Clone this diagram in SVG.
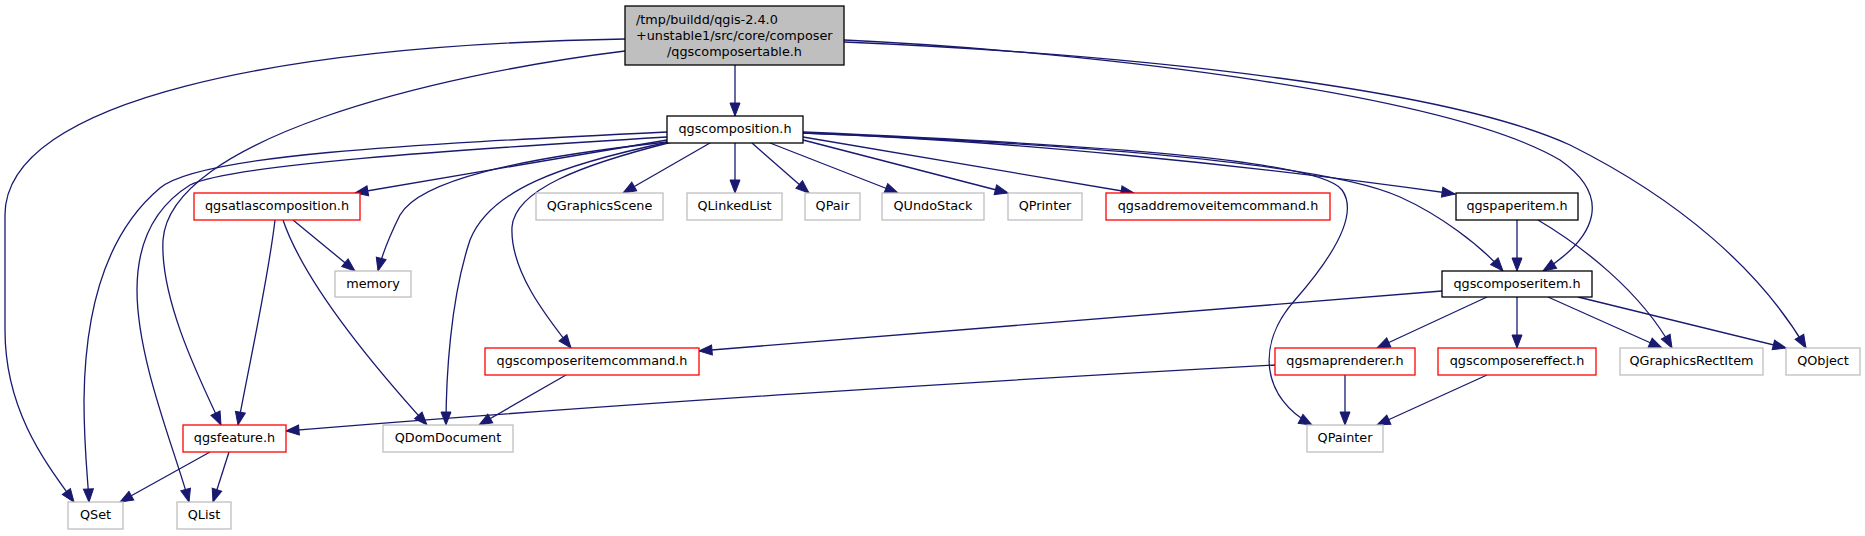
<svg xmlns="http://www.w3.org/2000/svg" width="1865" height="536" viewBox="0 0 1865 536">
<style>
.nd rect{fill:#ffffff;stroke-width:1.3}
.k rect{stroke:#000000}
.r rect{stroke:#ff0000}
.g rect{stroke:#bfbfbf}
#main rect{fill:#bfbfbf;stroke:#000000}
text{font-family:"DejaVu Sans","Liberation Sans",sans-serif;font-size:12.8px;fill:#000000;text-anchor:middle}
#edges path{fill:none;stroke:#191970;stroke-width:1.3;marker-end:url(#a)}
</style>
<defs>
<marker id="a" markerUnits="userSpaceOnUse" markerWidth="14" markerHeight="11" refX="13" refY="5" orient="auto" overflow="visible">
<path d="M0,0 L13,5 L0,10 z" fill="#191970" stroke="#191970" stroke-width="1"/>
</marker>
</defs>
<rect x="0" y="0" width="1865" height="536" fill="#ffffff"/>
<g id="edges">
<path d="M735,65 L735,116"/>
<path d="M625,39 C280,45 5,100 5,215 L5,330 C5,410 45,462 74,502"/>
<path d="M625,51 C430,75 170,140 163,240 C160,300 200,380 221,425"/>
<path d="M844,40 C1100,52 1450,95 1560,160 C1610,195 1600,235 1543,271"/>
<path d="M844,42 C1150,55 1450,90 1570,145 C1680,200 1760,270 1806,348"/>
<path d="M667,132 C400,145 200,155 160,188 C110,230 85,300 84,400 C84,450 88,480 89,502"/>
<path d="M667,137 C450,150 230,165 190,185 C150,210 137,250 137,290 C137,360 175,450 189,502"/>
<path d="M667,140 L355,193"/>
<path d="M667,142 C520,158 420,180 400,215 C390,235 382,255 378,271"/>
<path d="M669,142 C560,165 490,190 470,240 C450,300 446,380 446,425"/>
<path d="M672,142 C580,165 515,190 512,227 C510,270 545,315 571,348"/>
<path d="M710,143 L623,193"/>
<path d="M735,143 L735,193"/>
<path d="M752,143 L809,193"/>
<path d="M770,143 L898,193"/>
<path d="M803,140 L1008,193"/>
<path d="M803,137 L1134,193"/>
<path d="M803,133 C1000,140 1250,165 1455,194"/>
<path d="M803,133 C1100,145 1330,165 1400,197 C1440,215 1480,245 1503,271"/>
<path d="M803,132 C1100,145 1320,160 1342,190 C1360,215 1330,260 1295,300 C1255,345 1262,398 1312,425"/>
<path d="M1517,220 L1517,271"/>
<path d="M1538,220 C1580,245 1640,290 1672,348"/>
<path d="M1442,291 L699,351"/>
<path d="M1487,297 L1377,348"/>
<path d="M1517,297 L1517,348"/>
<path d="M1548,297 L1662,348"/>
<path d="M1578,297 L1786,348"/>
<path d="M1275,365 C1000,380 600,405 286,431"/>
<path d="M1345,375 L1345,425"/>
<path d="M1487,375 L1377,425"/>
<path d="M566,375 L479,425"/>
<path d="M293,220 L355,271"/>
<path d="M275,220 C268,280 250,360 238,425"/>
<path d="M283,220 C300,270 350,340 427,425"/>
<path d="M210,452 L120,502"/>
<path d="M229,452 L213,502"/>
</g>
<g id="main" class="nd"><rect x="625" y="6" width="219" height="59"/>
<text x="636" y="24" style="text-anchor:start">/tmp/buildd/qgis-2.4.0</text>
<text x="636" y="40" style="text-anchor:start">+unstable1/src/core/composer</text>
<text x="734.5" y="56">/qgscomposertable.h</text></g>
<g id="qgscomposition" class="nd k"><rect x="667" y="116" width="136" height="27"/><text x="735" y="133.3">qgscomposition.h</text></g>
<g id="qgsatlascomposition" class="nd r"><rect x="194" y="193" width="166" height="27"/><text x="277" y="210.3">qgsatlascomposition.h</text></g>
<g id="QGraphicsScene" class="nd g"><rect x="536" y="193" width="127" height="27"/><text x="599.5" y="210.3">QGraphicsScene</text></g>
<g id="QLinkedList" class="nd g"><rect x="687" y="193" width="95" height="27"/><text x="734.5" y="210.3">QLinkedList</text></g>
<g id="QPair" class="nd g"><rect x="805" y="193" width="55" height="27"/><text x="832.5" y="210.3">QPair</text></g>
<g id="QUndoStack" class="nd g"><rect x="882" y="193" width="102" height="27"/><text x="933" y="210.3">QUndoStack</text></g>
<g id="QPrinter" class="nd g"><rect x="1008" y="193" width="74" height="27"/><text x="1045" y="210.3">QPrinter</text></g>
<g id="qgsaddremoveitemcommand" class="nd r"><rect x="1106" y="193" width="224" height="27"/><text x="1218" y="210.3">qgsaddremoveitemcommand.h</text></g>
<g id="qgspaperitem" class="nd k"><rect x="1456" y="193" width="122" height="27"/><text x="1517" y="210.3">qgspaperitem.h</text></g>
<g id="memory" class="nd g"><rect x="335" y="271" width="76" height="26"/><text x="373" y="288">memory</text></g>
<g id="qgscomposeritem" class="nd k"><rect x="1442" y="271" width="150" height="26"/><text x="1517" y="288">qgscomposeritem.h</text></g>
<g id="qgscomposeritemcommand" class="nd r"><rect x="485" y="348" width="214" height="27"/><text x="592" y="365.3">qgscomposeritemcommand.h</text></g>
<g id="qgsmaprenderer" class="nd r"><rect x="1275" y="348" width="140" height="27"/><text x="1345" y="365.3">qgsmaprenderer.h</text></g>
<g id="qgscomposereffect" class="nd r"><rect x="1438" y="348" width="158" height="27"/><text x="1517" y="365.3">qgscomposereffect.h</text></g>
<g id="QGraphicsRectItem" class="nd g"><rect x="1620" y="348" width="143" height="27"/><text x="1691.5" y="365.3">QGraphicsRectItem</text></g>
<g id="QObject" class="nd g"><rect x="1786" y="348" width="74" height="27"/><text x="1823" y="365.3">QObject</text></g>
<g id="qgsfeature" class="nd r"><rect x="183" y="425" width="103" height="27"/><text x="234.5" y="442.3">qgsfeature.h</text></g>
<g id="QDomDocument" class="nd g"><rect x="383" y="425" width="130" height="27"/><text x="448" y="442.3">QDomDocument</text></g>
<g id="QPainter" class="nd g"><rect x="1307" y="425" width="76" height="27"/><text x="1345" y="442.3">QPainter</text></g>
<g id="QSet" class="nd g"><rect x="68" y="502" width="55" height="27"/><text x="95.5" y="519.3">QSet</text></g>
<g id="QList" class="nd g"><rect x="177" y="502" width="54" height="27"/><text x="204" y="519.3">QList</text></g>
</svg>
